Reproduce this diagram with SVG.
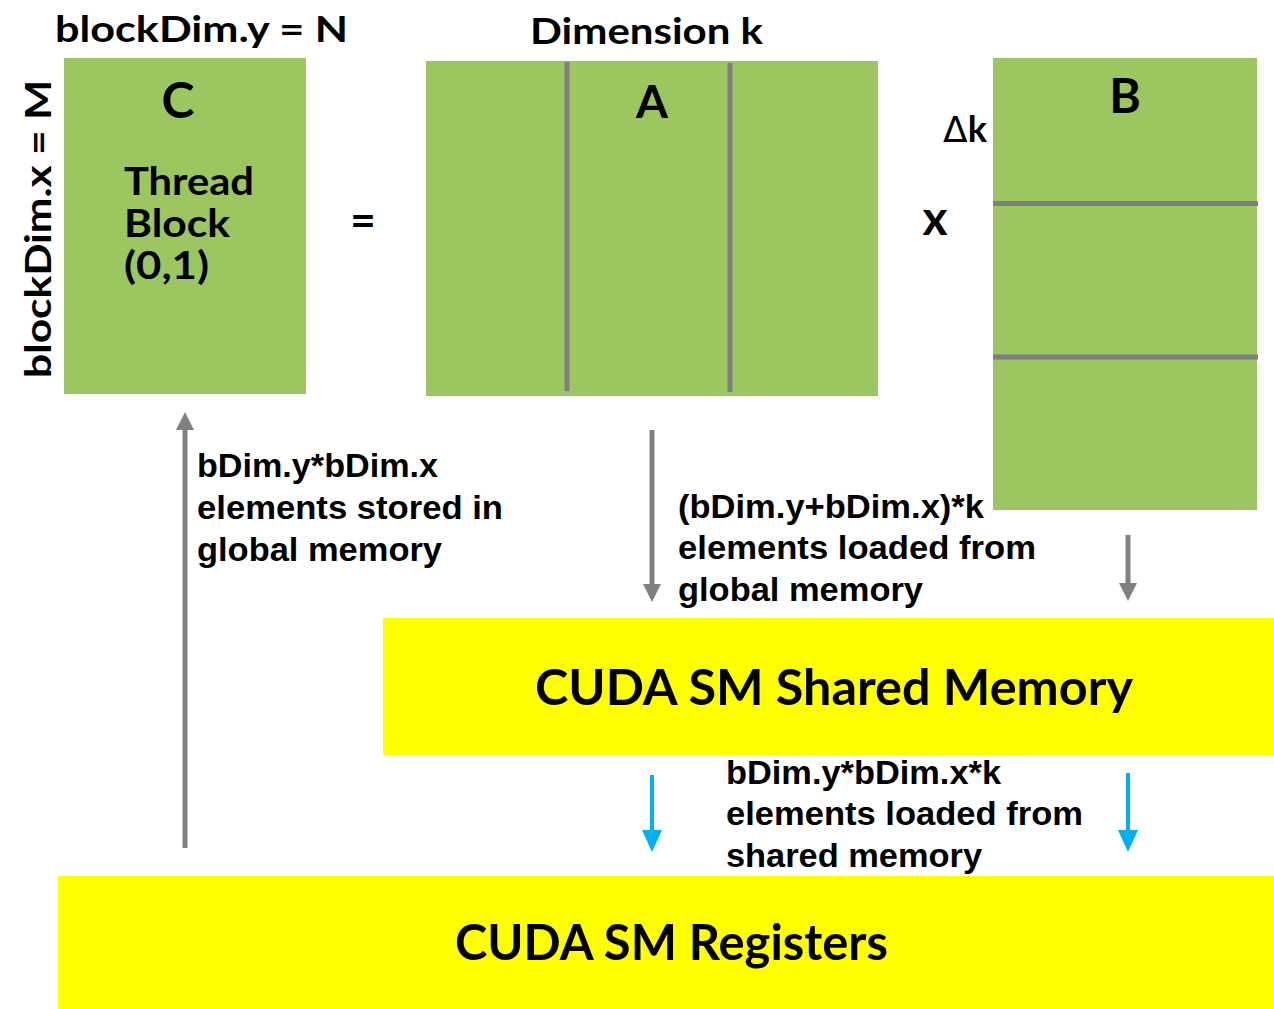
<svg xmlns="http://www.w3.org/2000/svg" width="1274" height="1009" viewBox="0 0 1274 1009">
  <style>
    .mat { fill: #9BC660; }
    .mem { fill: #FFFF00; }
    .div { stroke: #7F7F7F; stroke-width: 5; }
    .g { font-family: "Lato", "DejaVu Sans", sans-serif; font-weight: bold; fill: #000; }
    .a { font-family: "Liberation Sans", Arial, sans-serif; font-weight: bold; fill: #000; font-size: 33px; }
    .gray { stroke: #808080; stroke-width: 5; fill: none; }
    .blue { stroke: #00B0F0; stroke-width: 4; fill: none; }
  </style>
  <defs>
    <marker id="hg" markerUnits="userSpaceOnUse" markerWidth="18" markerHeight="18" refX="1" refY="9" orient="auto">
      <path d="M0,0 L18,9 L0,18 z" fill="#808080"/>
    </marker>
    <marker id="hb" markerUnits="userSpaceOnUse" markerWidth="22" markerHeight="20" refX="1" refY="10" orient="auto">
      <path d="M0,0 L22,10 L0,20 z" fill="#00B0F0"/>
    </marker>
  </defs>
  <rect width="1274" height="1009" fill="#fff"/>

  <g id="labels">
    <text class="g" x="55" y="42" font-size="37" textLength="293" lengthAdjust="spacingAndGlyphs">blockDim.y = N</text>
    <text class="g" x="530" y="44" font-size="37" textLength="233" lengthAdjust="spacingAndGlyphs">Dimension k</text>
    <text class="g" transform="translate(51,378) rotate(-90)" x="0" y="0" font-size="37" textLength="298" lengthAdjust="spacingAndGlyphs">blockDim.x = M</text>
    <text class="g" x="363" y="236" font-size="44" text-anchor="middle">=</text>
    <text class="g" x="935" y="235" font-size="48" text-anchor="middle">x</text>
    <text x="943" y="142" font-size="36"><tspan font-family="DejaVu Sans, sans-serif" font-weight="normal">Δ</tspan><tspan font-family="Lato, sans-serif" font-weight="bold">k</tspan></text>
  </g>

  <g id="matC">
    <rect class="mat" x="64" y="58" width="242" height="336"/>
    <text class="g" x="178" y="118" font-size="50" text-anchor="middle">C</text>
    <text class="g" x="124" y="195" font-size="39" textLength="130" lengthAdjust="spacingAndGlyphs">Thread</text>
    <text class="g" x="124" y="237" font-size="39" textLength="106" lengthAdjust="spacingAndGlyphs">Block</text>
    <text class="g" x="124" y="279" font-size="39" textLength="85" lengthAdjust="spacingAndGlyphs">(0,1)</text>
  </g>

  <g id="matA">
    <rect class="mat" x="426" y="61" width="452" height="335"/>
    <line class="div" x1="567" y1="62" x2="567" y2="391"/>
    <line class="div" x1="730" y1="63" x2="730" y2="392"/>
    <text class="g" x="652" y="118" font-size="46" text-anchor="middle">A</text>
  </g>

  <g id="matB">
    <rect class="mat" x="993" y="58" width="264" height="452"/>
    <line class="div" x1="993" y1="203.5" x2="1258" y2="203.5"/>
    <line class="div" x1="993" y1="357" x2="1258" y2="357"/>
    <text class="g" x="1125" y="113" font-size="48" text-anchor="middle">B</text>
  </g>

  <g id="shared">
    <rect class="mem" x="383" y="618" width="891" height="137"/>
    <text class="g" x="535" y="705" font-size="49" textLength="598" lengthAdjust="spacingAndGlyphs">CUDA SM Shared Memory</text>
  </g>

  <g id="registers">
    <rect class="mem" x="58" y="876" width="1216" height="133"/>
    <text class="g" x="455" y="960" font-size="49" textLength="433" lengthAdjust="spacingAndGlyphs">CUDA SM Registers</text>
  </g>

  <g id="connectors">
    <line class="gray" x1="185" y1="848" x2="185" y2="429" marker-end="url(#hg)"/>
    <line class="gray" x1="652" y1="430" x2="652" y2="585" marker-end="url(#hg)"/>
    <line class="gray" x1="1128" y1="535" x2="1128" y2="584" marker-end="url(#hg)"/>
    <line class="blue" x1="652" y1="775" x2="652" y2="831" marker-end="url(#hb)"/>
    <line class="blue" x1="1128" y1="773" x2="1128" y2="831" marker-end="url(#hb)"/>
  </g>

  <g id="connector-labels">
    <text class="a" x="197" y="477" textLength="241" lengthAdjust="spacingAndGlyphs">bDim.y*bDim.x</text>
    <text class="a" x="197" y="519" textLength="306" lengthAdjust="spacingAndGlyphs">elements stored in</text>
    <text class="a" x="197" y="561" textLength="245" lengthAdjust="spacingAndGlyphs">global memory</text>
    <text class="a" x="678" y="518" textLength="306" lengthAdjust="spacingAndGlyphs">(bDim.y+bDim.x)*k</text>
    <text class="a" x="678" y="559" textLength="358" lengthAdjust="spacingAndGlyphs">elements loaded from</text>
    <text class="a" x="678" y="601" textLength="245" lengthAdjust="spacingAndGlyphs">global memory</text>
    <text class="a" x="726" y="784" textLength="275" lengthAdjust="spacingAndGlyphs">bDim.y*bDim.x*k</text>
    <text class="a" x="726" y="825" textLength="357" lengthAdjust="spacingAndGlyphs">elements loaded from</text>
    <text class="a" x="726" y="867" textLength="256" lengthAdjust="spacingAndGlyphs">shared memory</text>
  </g>
</svg>
